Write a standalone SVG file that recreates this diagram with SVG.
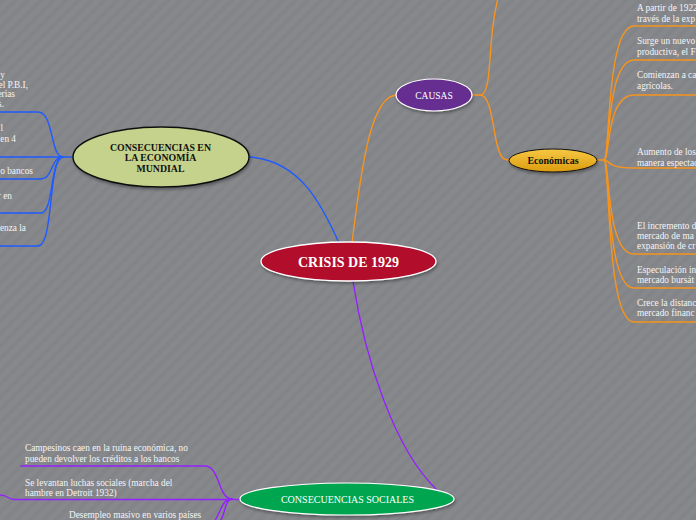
<svg xmlns="http://www.w3.org/2000/svg" width="696" height="520" viewBox="0 0 696 520">
<defs>
<pattern id="stripes" patternUnits="userSpaceOnUse" width="9" height="9" patternTransform="rotate(45)">
<rect width="9" height="9" fill="#87888c"/>
<rect width="4" height="9" fill="#838488"/>
</pattern>
<linearGradient id="gold" x1="0" y1="0" x2="0" y2="1">
<stop offset="0" stop-color="#f6c844"/>
<stop offset="1" stop-color="#dc9c0e"/>
</linearGradient>
<filter id="sh" x="-20%" y="-30%" width="140%" height="170%">
<feDropShadow dx="1" dy="2" stdDeviation="1.5" flood-color="#000" flood-opacity="0.35"/>
</filter>
<style>
.c{fill:none;stroke-width:1.4;stroke-linecap:round}
.or{stroke:#f7941d}
.bl{stroke:#1f5bff}
.pu{stroke:#9420ff}
.leaf{font-family:"Liberation Serif","DejaVu Serif",serif;font-size:9.3px;fill:#f4f4f4}
.nt{font-family:"Liberation Serif","DejaVu Serif",serif;text-anchor:middle}
</style>
</defs>
<rect width="696" height="520" fill="url(#stripes)"/>

<g id="connectors">
<path class="c or" d="M352,243 C362,160 372,95 397,95"/>
<path class="c bl" d="M339,243 C322,205 300,160 249,157"/>
<path class="c pu" d="M353,281 C365,360 395,450 437,490"/>
<path class="c or" d="M472,95 L480,95 C488,95 489,75 491,45 C493,20 496,6 498,-2"/>
<path class="c or" d="M480,95 C490,95 492,120 496,140 C500,158 503,160 509,160"/>
<path class="c or" d="M597,160 L604,160"/>
<path class="c or" d="M604,160 C610,160 606,26 634,26 L696,26"/>
<path class="c or" d="M604,160 C610,160 606,60 634,60 L696,60"/>
<path class="c or" d="M604,160 C610,160 606,95 634,95 L696,95"/>
<path class="c or" d="M604,160 C610,160 606,168 634,168 L696,168"/>
<path class="c or" d="M604,160 C610,160 606,254 634,254 L696,254"/>
<path class="c or" d="M604,160 C610,160 606,288 634,288 L696,288"/>
<path class="c or" d="M604,160 C610,160 606,322 634,322 L696,322"/>
<path class="c bl" d="M73,157 L0,157"/>
<path class="c bl" d="M63,157 C50,157 54,112 38,112 L0,112"/>
<path class="c bl" d="M63,157 C50,157 54,179 40,179 L0,179"/>
<path class="c bl" d="M63,157 C50,157 54,213 41,213 L0,213"/>
<path class="c bl" d="M63,157 C48,157 54,246 38,246 L0,246"/>
<path class="c pu" d="M21,466 L205,466 C220,466 218,499 232,499"/>
<path class="c pu" d="M0,495 C8,495 8,499.5 14,499.5 L240,499.5"/>
<path class="c pu" d="M232,499 C222,499 222,510 214,522"/>
<path class="c pu" d="M232,499 C225,499 226,512 220,522"/>
</g>

<g id="n-crisis">
<ellipse cx="348.5" cy="261.5" rx="87.5" ry="19.5" fill="#b20c2c" stroke="#ffffff" stroke-width="1.3" filter="url(#sh)"/>
<text class="nt" x="348.5" y="266.5" font-size="14" font-weight="bold" fill="#ffffff">CRISIS DE 1929</text>
</g>

<g id="n-causas">
<ellipse cx="434" cy="95" rx="38" ry="16" fill="#652d90" stroke="#ffffff" stroke-width="1.2" filter="url(#sh)"/>
<text class="nt" x="434" y="98.5" font-size="9.5" fill="#ffffff">CAUSAS</text>
</g>

<g id="n-economicas">
<ellipse cx="553" cy="160.5" rx="44" ry="11.5" fill="url(#gold)" stroke="#111" stroke-width="1" filter="url(#sh)"/>
<text class="nt" x="553" y="164" font-size="10" font-weight="bold" fill="#111">Económicas</text>
</g>

<g id="n-cons-eco">
<ellipse cx="161" cy="157" rx="88" ry="30" fill="#c4d28b" stroke="#111" stroke-width="1.4" filter="url(#sh)"/>
<text class="nt" font-size="9.8" font-weight="bold" fill="#111"><tspan x="160.5" y="150.5">CONSECUENCIAS EN</tspan><tspan x="160.5" y="161">LA ECONOMÍA</tspan><tspan x="160.5" y="171.5">MUNDIAL</tspan></text>
</g>

<g id="n-cons-soc">
<ellipse cx="347" cy="499" rx="107" ry="16" fill="#00a650" stroke="#ffffff" stroke-width="1.2" filter="url(#sh)"/>
<text class="nt" x="347.5" y="502.5" font-size="10" fill="#ffffff">CONSECUENCIAS SOCIALES</text>
</g>

<g id="leaves-right">
<text class="leaf" x="637" y="11">A partir de 1922</text>
<text class="leaf" x="637" y="22">través de la exp</text>
<text class="leaf" x="637" y="44">Surge un nuevo</text>
<text class="leaf" x="637" y="55">productiva, el F</text>
<text class="leaf" x="637" y="78">Comienzan a ca</text>
<text class="leaf" x="637" y="89">agrícolas.</text>
<text class="leaf" x="637" y="155">Aumento de los</text>
<text class="leaf" x="637" y="166">manera espectac</text>
<text class="leaf" x="637" y="229">El incremento d</text>
<text class="leaf" x="637" y="239">mercado de ma</text>
<text class="leaf" x="637" y="249">expansión de cr</text>
<text class="leaf" x="637" y="273">Especulación in</text>
<text class="leaf" x="637" y="283">mercado bursát</text>
<text class="leaf" x="637" y="306">Crece la distanc</text>
<text class="leaf" x="637" y="316">mercado financ</text>
</g>

<g id="leaves-left" text-anchor="end">
<text class="leaf" x="5" y="78">y</text>
<text class="leaf" x="28" y="88">el P.B.I,</text>
<text class="leaf" x="15" y="97">erias</text>
<text class="leaf" x="4" y="107">s.</text>
<text class="leaf" x="3" y="131">l</text>
<text class="leaf" x="16" y="142">en 4</text>
<text class="leaf" x="33" y="174">o bancos</text>
<text class="leaf" x="12" y="199">r en</text>
<text class="leaf" x="26" y="231">enza la</text>
</g>

<g id="leaves-bottom">
<text class="leaf" x="25" y="451">Campesinos caen en la ruina económica, no</text>
<text class="leaf" x="25" y="462">pueden devolver los créditos a los bancos</text>
<text class="leaf" x="25" y="486">Se levantan luchas sociales (marcha del</text>
<text class="leaf" x="25" y="496">hambre en Detroit 1932)</text>
<text class="leaf" x="69" y="518">Desempleo masivo en varios países</text>
</g>
</svg>
